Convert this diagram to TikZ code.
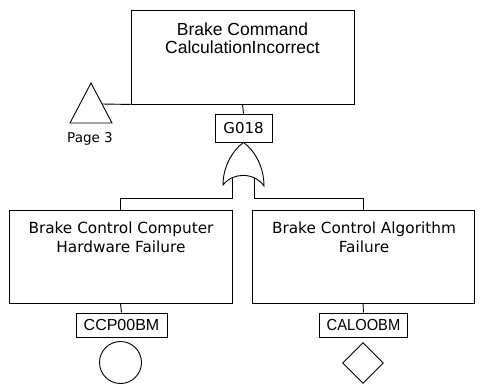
\documentclass[tikz,border=0pt]{standalone}
\usepackage{fontspec}
\setmainfont{Liberation Sans}
\newfontfamily\roundfont{DejaVu Sans}
\usetikzlibrary{shapes.geometric,calc}

\begin{document}
\begin{tikzpicture}[x=1pt, y=-1pt, line width=0.9pt,
  eventbox/.style={draw, rectangle, inner sep=0pt},
  toptxt/.style={align=center, inner sep=0pt, font=\fontsize{17.5}{18}\selectfont},
  evtxt/.style={align=center, inner sep=0pt, font=\roundfont\fontsize{15.3}{19.5}\selectfont},
  idbox/.style={draw, rectangle, inner sep=0pt, minimum height=24pt, font=\fontsize{16}{16}\selectfont},
  gatebox/.style={draw, rectangle, inner sep=0pt, minimum width=57pt, minimum height=28pt, font=\roundfont\fontsize{15}{15}\selectfont},
  pagetxt/.style={inner sep=0pt, font=\roundfont\fontsize{13.5}{13.5}\selectfont}]
\useasboundingbox (0,0) rectangle (481,389);

% top event
\node[eventbox, minimum width=223pt, minimum height=94pt] (top) at (242.5,57) {};
\node[toptxt, anchor=north] (toplbl) at (242.5,22.5) {Brake Command\\CalculationIncorrect};

% transfer triangle
\draw (91,83) coordinate (tapex) -- (112,123) coordinate[pos=0.525] (tjoin) -- (70,123) -- cycle;
\node[pagetxt, anchor=base] (page) at (90,142) {Page 3};
\draw (tjoin) -- (top.south west);

% gate label and OR gate
\node[gatebox] (g018) at (243.5,128) {G018};
\draw (top.south) -- (g018.north);
\coordinate (apex) at (g018.south);
\draw (apex) .. controls (233,150) and (223,166) .. (223,185)
  .. controls (233,172) and (254,172) .. (264,186) coordinate[pos=0.25] (gl) coordinate[pos=0.75] (gr)
  .. controls (264,166) and (254,150) .. (apex);

% intermediate events
\node[eventbox, minimum width=223pt, minimum height=93pt] (lbox) at (120.5,256.5) {};
\node[evtxt, anchor=north] (llbl) at (121,221) {Brake Control Computer\\Hardware Failure};
\node[eventbox, minimum width=222pt, minimum height=93pt] (rbox) at (363,256.5) {};
\node[evtxt, anchor=north] (rlbl) at (364,221) {Brake Control Algorithm\\Failure};

% gate outputs
\coordinate (barl) at ($(lbox.north)+(0,-11)$);
\coordinate (barr) at ($(rbox.north)+(0,-11)$);
\draw (gl) -- (gl |- barl) -- (barl) -- (lbox.north);
\draw (gr) -- (gr |- barr) -- (barr) -- (rbox.north);

% basic events
\node[idbox, minimum width=91pt] (ccp) at (121.5,325) {CCP00BM};
\node[idbox, minimum width=88pt] (cal) at (363.5,325) {\scalebox{0.92}[1]{CALOOBM}};
\draw (lbox.south) -- (ccp.north);
\draw (rbox.south) -- (cal.north);
\node[draw, circle, minimum size=42pt, inner sep=0pt] (circ) at (120.5,362.5) {};
\node[draw, diamond, minimum width=41pt, minimum height=41pt, inner sep=0pt] (diam) at (363,363) {};
\end{tikzpicture}
\end{document}
